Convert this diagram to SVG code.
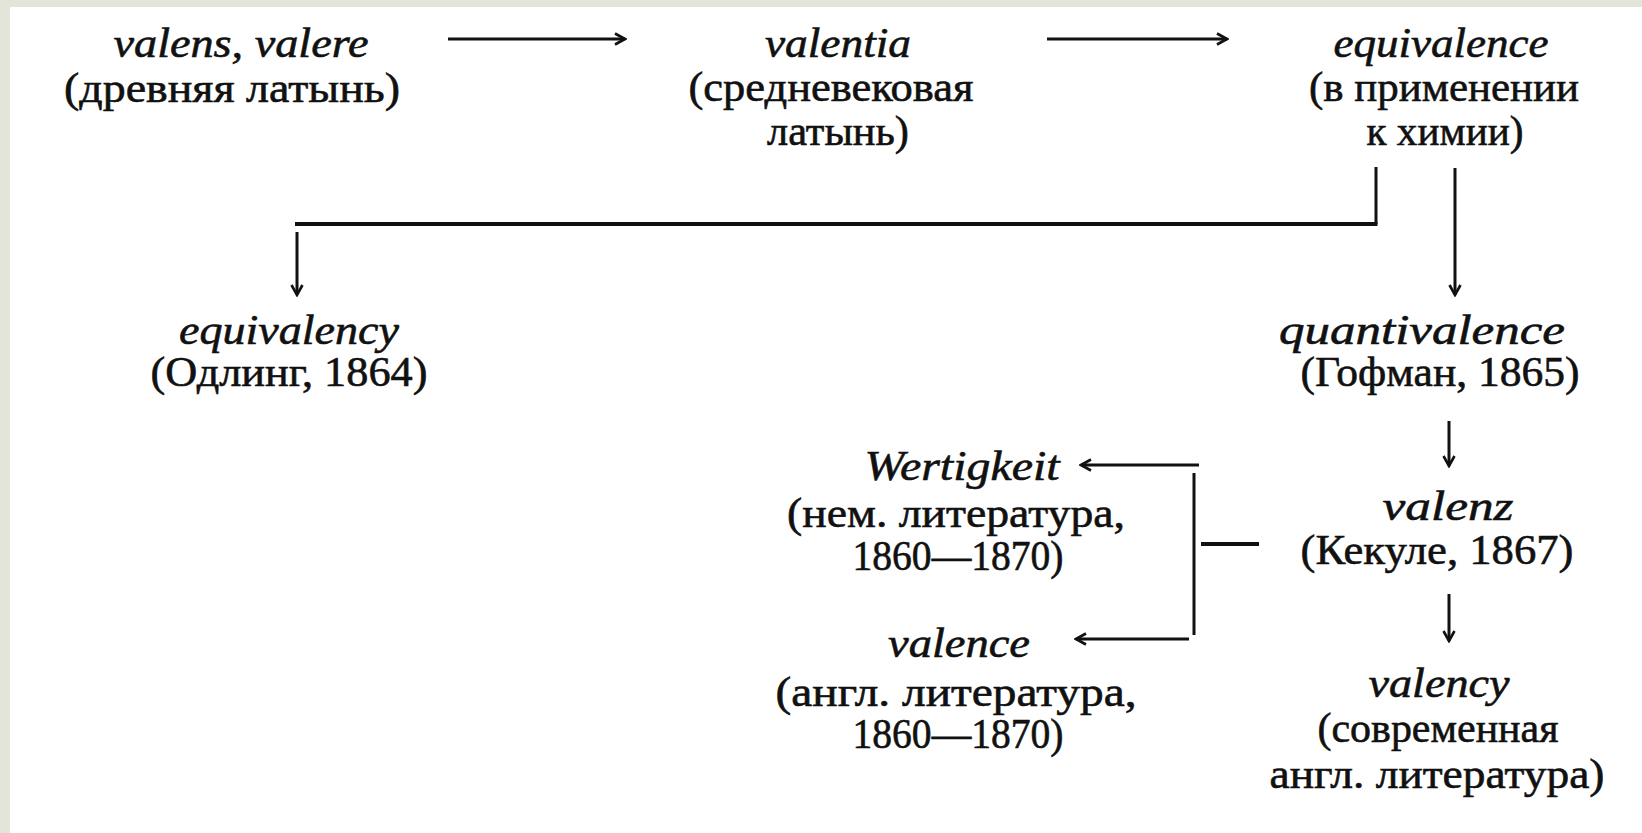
<svg xmlns="http://www.w3.org/2000/svg" width="1642" height="833" viewBox="0 0 1642 833">
<defs>
<style>
text{font-family:"Liberation Serif","DejaVu Serif",serif;font-size:42px;fill:#111;stroke:#111;stroke-width:0.6;text-anchor:middle}
.i{font-style:italic}
.c{stroke:#111;stroke-width:3;fill:none}
.h{stroke:#111;stroke-width:3.8;fill:none}
</style>
<marker id="ah" viewBox="0 0 14 14" refX="12" refY="7" markerWidth="14" markerHeight="14" markerUnits="userSpaceOnUse" orient="auto">
<path d="M2,1.5 L12,7 L2,12.5" fill="none" stroke="#111" stroke-width="2.6"/>
</marker>
</defs>
<rect x="0" y="0" width="1642" height="833" fill="#e4e5d9"/>
<rect x="10" y="7" width="1632" height="826" fill="#fff"/>

<g id="n-valens">
<text class="i" x="241" y="57" textLength="255" lengthAdjust="spacingAndGlyphs">valens, valere</text>
<text x="232" y="102" textLength="336" lengthAdjust="spacingAndGlyphs">(древняя  латынь)</text>
</g>
<g id="n-valentia">
<text class="i" x="838" y="57" textLength="146" lengthAdjust="spacingAndGlyphs">valentia</text>
<text x="831" y="101" textLength="285" lengthAdjust="spacingAndGlyphs">(средневековая</text>
<text x="838" y="145" textLength="142" lengthAdjust="spacingAndGlyphs">латынь)</text>
</g>
<g id="n-equivalence">
<text class="i" x="1441" y="57" textLength="215" lengthAdjust="spacingAndGlyphs">equivalence</text>
<text x="1444" y="101" textLength="270" lengthAdjust="spacingAndGlyphs">(в применении</text>
<text x="1445" y="145" textLength="157" lengthAdjust="spacingAndGlyphs">к химии)</text>
</g>
<g id="n-equivalency">
<text class="i" x="289" y="344" textLength="220" lengthAdjust="spacingAndGlyphs">equivalency</text>
<text x="289" y="386" textLength="277" lengthAdjust="spacingAndGlyphs">(Одлинг, 1864)</text>
</g>
<g id="n-quantivalence">
<text class="i" x="1422" y="344" textLength="286" lengthAdjust="spacingAndGlyphs">quantivalence</text>
<text x="1440" y="386" textLength="279" lengthAdjust="spacingAndGlyphs">(Гофман, 1865)</text>
</g>
<g id="n-wertigkeit">
<text class="i" x="962" y="480" textLength="195" lengthAdjust="spacingAndGlyphs">Wertigkeit</text>
<text x="956" y="527" textLength="338" lengthAdjust="spacingAndGlyphs">(нем. литература,</text>
<text x="958" y="570" textLength="211" lengthAdjust="spacingAndGlyphs">1860—1870)</text>
</g>
<g id="n-valenz">
<text class="i" x="1448" y="520" textLength="131" lengthAdjust="spacingAndGlyphs">valenz</text>
<text x="1437" y="564" textLength="273" lengthAdjust="spacingAndGlyphs">(Кекуле, 1867)</text>
</g>
<g id="n-valence">
<text class="i" x="959" y="657" textLength="142" lengthAdjust="spacingAndGlyphs">valence</text>
<text x="956" y="706" textLength="361" lengthAdjust="spacingAndGlyphs">(англ.  литература,</text>
<text x="958" y="748" textLength="211" lengthAdjust="spacingAndGlyphs">1860—1870)</text>
</g>
<g id="n-valency">
<text class="i" x="1439" y="697" textLength="141" lengthAdjust="spacingAndGlyphs">valency</text>
<text x="1438" y="742" textLength="241" lengthAdjust="spacingAndGlyphs">(современная</text>
<text x="1437" y="788" textLength="335" lengthAdjust="spacingAndGlyphs">англ. литература)</text>
</g>

<g id="connectors">
<line class="c" x1="448" y1="39" x2="625" y2="39" marker-end="url(#ah)"/>
<line class="c" x1="1047" y1="39" x2="1227" y2="39" marker-end="url(#ah)"/>
<line class="c" x1="1376" y1="167" x2="1376" y2="224"/>
<line class="h" x1="295" y1="224" x2="1377.5" y2="224"/>
<line class="c" x1="297" y1="232" x2="297" y2="295" marker-end="url(#ah)"/>
<line class="c" x1="1455" y1="168" x2="1455" y2="295" marker-end="url(#ah)"/>
<line class="c" x1="1449" y1="421" x2="1449" y2="466" marker-end="url(#ah)"/>
<line class="c" x1="1199" y1="465" x2="1081" y2="465" marker-end="url(#ah)"/>
<line class="c" x1="1194" y1="473" x2="1194" y2="635"/>
<line class="h" x1="1201" y1="544" x2="1259" y2="544"/>
<line class="c" x1="1449" y1="594" x2="1449" y2="641" marker-end="url(#ah)"/>
<line class="c" x1="1189" y1="639" x2="1076" y2="639" marker-end="url(#ah)"/>
</g>
</svg>
